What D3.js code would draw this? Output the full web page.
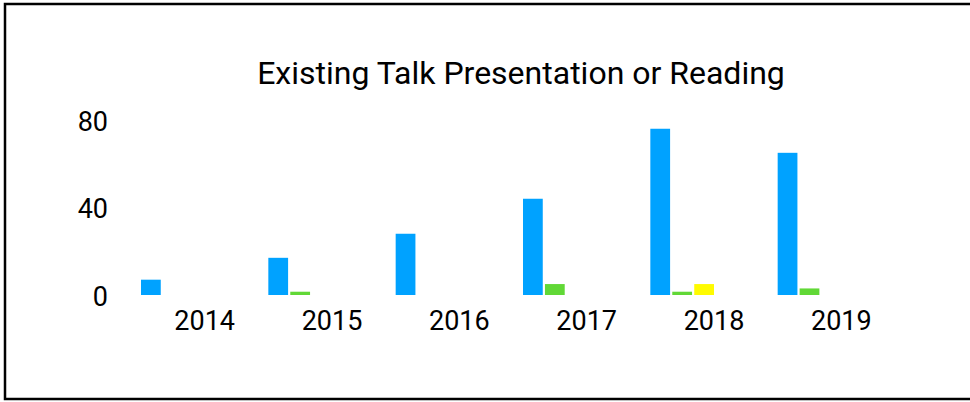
<!DOCTYPE html>
<html>
<head>
<meta charset="utf-8">
<script src="https://cdn.jsdelivr.net/npm/d3@7"></script>
<style>
    body { margin: 0; background: #fff; }
    svg { display: block; font-family: Roboto, sans-serif; }
</style>
</head>
<body>
<svg id="chart" width="970" height="402"></svg>
<script>
// chart values
const years = ['2014', '2015', '2016', '2017', '2018', '2019'];
const seriesNames = ['A', 'B', 'C'];
const seriesA = [7, 17, 28, 44, 76, 65];
const seriesB = [0, 1.5, 0, 5, 1.5, 3];
const seriesC = [0, 0, 0, 0, 5, 0];
const yTicks = [0, 40, 80];
const colors = ['#00a2ff', '#61d836', '#fffb00'];

const title = 'Existing Talk Presentation or Reading';

const width = 970;

const plot = {
    left: 141,
    right: 905,
    top: 120,
    bottom: 295
};

const svg = d3.select('#chart');

// outer frame
svg.append('rect')
    .attr('x', 5)
    .attr('y', 4)
    .attr('width', width)
    .attr('height', 395)
    .attr('fill', 'none')
    .attr('stroke', '#000')
    .attr('stroke-width', 2.5);

svg.append('text')
    .attr('x', 521)
    .attr('y', 84)
    .attr('text-anchor', 'middle')
    .attr('font-size', 32)
    .attr('fill', '#000')
    .text(title);

const x = d3
    .scaleBand()
    .domain(years)
    .range([plot.left, plot.right])
    .padding(0);

// bars sit in the first half of each year band
const xInner = d3
    .scaleBand()
    .domain(seriesNames)
    .range([0, x.bandwidth() / 2])
    .paddingInner(0.1);

const y = d3
    .scaleLinear()
    .domain([0, 80])
    .range([plot.bottom, plot.top]);

const rows = years.map((year, i) => ({
    year,
    values: [seriesA[i], seriesB[i], seriesC[i]]
}));

const groups = svg
    .append('g')
    .selectAll('g')
    .data(rows)
    .join('g')
    .attr('transform', d => `translate(${x(d.year)},0)`);

groups
    .selectAll('rect')
    .data(d => d.values.map((value, i) => ({ value, name: seriesNames[i], color: colors[i] })))
    .join('rect')
    .filter(d => d.value > 0)
    .attr('x', d => xInner(d.name))
    .attr('y', d => y(d.value))
    .attr('width', xInner.bandwidth())
    .attr('height', d => y(0) - y(d.value))
    .attr('fill', d => d.color);

const yAxe = d3
    .axisLeft(y)
    .tickValues(yTicks)
    .tickSize(0)
    .tickPadding(0);

const yAxeNode = svg
    .append('g')
    .attr('transform', 'translate(108,0)')
    .call(yAxe);

yAxeNode.select('.domain').remove();
yAxeNode.selectAll('text')
    .attr('font-size', 27)
    .attr('font-family', 'Roboto, sans-serif')
    .attr('fill', '#000')
    .attr('dy', '0.38em');

const xAxe = d3
    .axisBottom(x)
    .tickSize(0)
    .tickPadding(0);

const xAxeNode = svg
    .append('g')
    .attr('transform', `translate(0,${plot.bottom})`)
    .call(xAxe);

xAxeNode.select('.domain').remove();
xAxeNode.selectAll('text')
    .attr('font-size', 27)
    .attr('font-family', 'Roboto, sans-serif')
    .attr('fill', '#000')
    .attr('y', 35)
    .attr('dy', 0);
</script>
</body>
</html>
